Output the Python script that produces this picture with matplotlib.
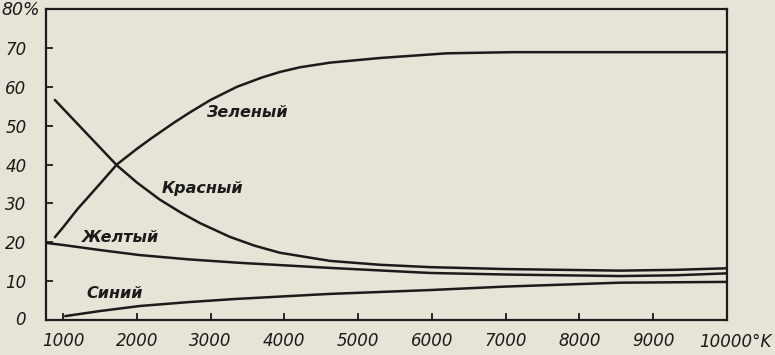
import matplotlib
matplotlib.use("Agg")
import matplotlib.pyplot as plt

# Data (temperature in K, share in %)
green_T = [890, 1000, 1200, 1500, 1730, 2000, 2180, 2500, 2720, 3000, 3360, 3700, 3940, 4210, 4620, 5300, 6200, 7100, 10000]
green_v = [21.3, 23.8, 28.6, 35.0, 40.0, 44.0, 46.5, 50.7, 53.4, 56.6, 60.0, 62.4, 63.8, 65.0, 66.2, 67.4, 68.6, 68.9, 68.9]

red_T = [890, 1000, 1300, 1730, 2000, 2310, 2600, 2860, 3260, 3600, 3940, 4620, 5300, 5970, 7000, 8550, 9300, 10000]
red_v = [56.6, 54.4, 48.4, 39.8, 35.4, 31.0, 27.6, 24.9, 21.4, 19.1, 17.3, 15.2, 14.2, 13.6, 13.1, 12.7, 12.9, 13.3]

yellow_T = [780, 1000, 1500, 2040, 2700, 3400, 4620, 5970, 7000, 8550, 9300, 10000]
yellow_v = [19.8, 19.3, 18.0, 16.7, 15.6, 14.7, 13.4, 12.1, 11.7, 11.3, 11.5, 12.0]

blue_T = [1030, 1500, 2040, 2700, 3330, 4600, 5970, 7000, 8550, 10000]
blue_v = [1.0, 2.3, 3.6, 4.6, 5.4, 6.7, 7.7, 8.6, 9.6, 9.8]

labels = ["Зеленый", "Красный", "Желтый", "Синий"]
label_pos = [(3490, 53.5), (2884, 33.7), (1786, 21.3), (1705, 6.9)]

x_ticks = [1000, 2000, 3000, 4000, 5000, 6000, 7000, 8000, 9000, 10000]
x_ticklabels = ["1000", "2000", "3000", "4000", "5000", "6000", "7000", "8000", "9000", "10000"]
y_ticks = [0, 10, 20, 30, 40, 50, 60, 70, 80]
y_ticklabels = ["0", "10", "20", "30", "40", "50", "60", "70", "80"]

bg = "#e7e3d7"
ink = "#1b1b1b"

plt.rcParams['font.family'] = ['DejaVu Sans']
fig = plt.figure(figsize=(7.75, 3.55), dpi=100, facecolor=bg)
ax = fig.add_axes([46/775, 35/355, (727-46)/775, (320-9)/355])
ax.set_facecolor(bg)

lw = 1.8
for T, v in [(green_T, green_v), (red_T, red_v), (yellow_T, yellow_v), (blue_T, blue_v)]:
    ax.plot(T, v, color=ink, lw=lw, solid_capstyle='round', solid_joinstyle='round')

for txt, (x, y) in zip(labels, label_pos):
    ax.text(x, y, txt, ha='center', va='center', fontsize=11.5, fontstyle='italic',
            fontweight='bold', color=ink)

ax.set_xlim(770, 10000)
ax.set_ylim(0, 80)
ax.set_xticks(x_ticks[:-1])
ax.set_xticklabels(x_ticklabels[:-1])
ax.set_yticks(y_ticks[1:-1])
ax.set_yticklabels(y_ticklabels[1:-1])

# labels at the spines (0, 80 and 10000)
ax.annotate(y_ticklabels[0], xy=(0, 0), xycoords='axes fraction', xytext=(-14.5, 0),
            textcoords='offset points', ha='right', va='center', fontsize=12,
            fontstyle='italic', color=ink)
ax.annotate(y_ticklabels[-1] + "%", xy=(0, 1), xycoords='axes fraction', xytext=(-32, -1),
            textcoords='offset points', ha='left', va='center', fontsize=12.5,
            fontstyle='italic', color=ink)
ax.annotate(x_ticklabels[-1] + "°K", xy=(1, 0), xycoords='axes fraction', xytext=(-20, -16),
            textcoords='offset points', ha='left', va='center', fontsize=12,
            fontstyle='italic', color=ink)

ax.tick_params(axis='both', direction='in', length=5, width=1.3, color=ink,
               labelsize=12, labelcolor=ink)
ax.tick_params(axis='y', pad=14)
ax.tick_params(axis='x', pad=9)
for lab in ax.get_xticklabels() + ax.get_yticklabels():
    lab.set_fontstyle('italic')

for s in ax.spines.values():
    s.set_linewidth(1.6)
    s.set_color(ink)

fig.savefig("out.png", dpi=100, facecolor=bg)
